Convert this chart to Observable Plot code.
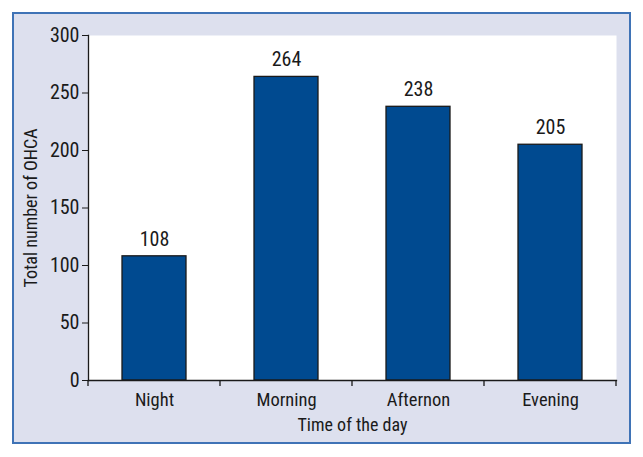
<!DOCTYPE html>
<html><head><meta charset="utf-8">
<script src="https://cdn.jsdelivr.net/npm/d3@7"></script>
<script src="https://cdn.jsdelivr.net/npm/@observablehq/plot@0.6"></script>
<style>
body{margin:0;width:643px;height:457px;position:relative;background:#fff;overflow:hidden}
#frame{position:absolute;left:12px;top:12px;width:615px;height:428px;border:2px solid #3f73b6;background:#dde0ee}
#chart{position:absolute;left:0;top:0}
svg{font-family:"Liberation Sans Narrow","Roboto Condensed","Arial Narrow",sans-serif}
</style></head>
<body><div id="frame"></div><div id="chart"></div>
<script>
const categories = ["Night", "Morning", "Afternon", "Evening"];
const values = [108, 264, 238, 205];
const yTicks = [0, 50, 100, 150, 200, 250, 300];
const xLabel = "Time of the day";
const yLabel = "Total number of OHCA";

const data = categories.map((c, i) => ({cat: c, value: values[i]}));
const chart = Plot.plot({
  width: 643, height: 457,
  marginLeft: 88, marginRight: 27, marginTop: 35, marginBottom: 77,
  style: {background: "transparent", fontSize: "18px", color: "#1a1a1a", overflow: "visible"},
  x: {domain: categories, paddingInner: 0.515, paddingOuter: 0.2575, label: null},
  y: {domain: [0, 300], label: null},
  marks: [
    Plot.frame({fill: "white", stroke: null}),
    Plot.barY(data, {x: "cat", y: "value", fill: "#004a90", stroke: "#1a1a1a", strokeWidth: 1.3}),
    Plot.text(data, {x: "cat", y: "value", text: d => String(d.value), dy: -17, fontSize: 20, fill: "#1a1a1a"}),
    Plot.axisY({ticks: yTicks, tickSize: 6, tickPadding: 3, fontSize: 20, label: null, stroke: "#1a1a1a"}),
    Plot.frame({anchor: "left", stroke: "#1a1a1a", strokeWidth: 1.3}),
    Plot.axisX({tickSize: 0, tickPadding: 12, fontSize: 18.5, label: null}),
    Plot.frame({anchor: "bottom", stroke: "#1a1a1a", strokeWidth: 1.3}),
    Plot.text([xLabel], {frameAnchor: "bottom", dy: 50, fontSize: 18, fill: "#1a1a1a"}),
    Plot.text([yLabel], {frameAnchor: "left", textAnchor: "middle", dx: -57, rotate: -90, fontSize: 18, fill: "#1a1a1a"})
  ]
});
document.getElementById("chart").append(chart);

// category boundary ticks on the x axis, positioned by the band scale
const xs = chart.scale("x");
const ys = chart.scale("y");
const svg = d3.select(chart);
const step = xs.step;
const edges = categories.map(c => xs.apply(c) - (step - xs.bandwidth) / 2);
edges.push(edges[edges.length - 1] + step);
const y0 = ys.apply(0);
svg.append("g").attr("stroke", "#1a1a1a").attr("stroke-width", 1.3)
  .selectAll("line").data(edges).join("line")
  .attr("x1", d => d).attr("x2", d => d).attr("y1", y0).attr("y2", y0 + 6);
</script></body></html>
